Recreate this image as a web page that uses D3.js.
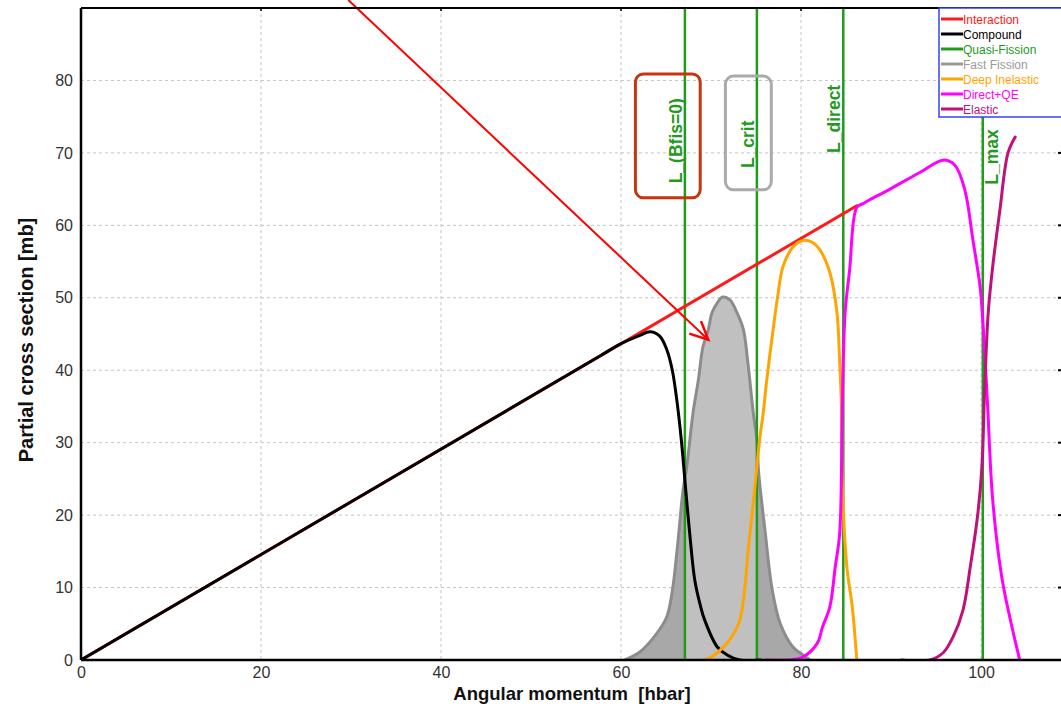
<!DOCTYPE html>
<html lang="en">
<head>
<meta charset="utf-8">
<script src="https://cdn.jsdelivr.net/npm/d3@7"></script>
<style>
    body { margin: 0; background: #fff; }
    text { font-family: "Liberation Sans", Arial, sans-serif; }
    .grid line { stroke: #c4c4c4; stroke-width: 1; stroke-dasharray: 3,3; }
    .axis path, .axis line { display: none; }
    .axis text { font-size: 16px; fill: #333; }
    .curve { fill: none; stroke-width: 3; stroke-linejoin: round; stroke-linecap: round; }
    .title { font-weight: bold; fill: #111; white-space: pre; }
    .llabel { font-size: 17.5px; font-weight: bold; fill: #229a1c; }
    .legend text { font-size: 12px; }
</style>
</head>
<body>
<div id="chart"></div>
<script>

    // tick labels
    var xTicks = [0, 20, 40, 60, 80, 100];
    var yTicks = [0, 10, 20, 30, 40, 50, 60, 70, 80];

    // partial cross sections (L in hbar, sigma in mb)
    var interactionL = [0, 86.2];
    var interactionS = [0, 62.7];

    var compoundL = [0, 57.7, 59.9, 62.1, 63.2, 64.3, 65.1, 65.7, 66.2, 66.7, 67.1, 67.7, 68.2, 68.8, 69.3, 70.7, 71.8, 73.2, 75.5];
    var compoundS = [0, 42.0, 43.6, 44.8, 45.3, 44.7, 42.8, 40.0, 35.9, 30.4, 24.8, 16.6, 11.0, 7.6, 5.5, 1.8, 0.7, 0, 0];

    var fastFissionL = [60.4, 62.1, 64.0, 65.1, 65.7, 66.3, 66.9, 67.3, 68.0, 68.6, 69.1, 69.7, 70.1, 70.7, 71.3, 72.1, 72.9, 73.6, 74.1, 74.7, 75.1, 75.3, 76.0, 76.8, 77.7, 79.1, 80.2, 81.0];
    var fastFissionS = [0, 1.1, 3.7, 6.0, 9.5, 16.0, 23.5, 26.6, 34.1, 38.7, 43.2, 45.6, 47.9, 49.3, 50.1, 49.7, 47.9, 45.6, 41.0, 34.1, 30.4, 25.8, 17.9, 9.7, 5.0, 1.8, 0.7, 0];

    var deepInelasticL = [66.9, 69.3, 70.7, 72.1, 73.2, 74.2, 75.1, 75.4, 75.8, 76.2, 76.9, 77.4, 78.0, 79.1, 80.2, 81.2, 82.1, 83.2, 84.0, 84.3, 84.5, 84.6, 85.1, 85.7, 86.2];
    var deepInelasticS = [0, 0, 1.0, 2.8, 5.5, 16.0, 26.6, 30.4, 34.1, 38.7, 45.6, 50.1, 54.3, 57.0, 57.9, 57.7, 56.6, 53.5, 47.9, 41.0, 35.0, 24.0, 12.8, 7.3, 0];

    var directL = [76.2, 78.8, 80.2, 81.8, 82.4, 83.2, 83.8, 84.3, 84.6, 84.9, 85.4, 86.2, 86.9, 87.6, 89.6, 93.2, 95.8, 97.1, 98.2, 99.1, 99.9, 100.2, 100.7, 101.3, 102.3, 103.2, 104.3];
    var directS = [0, 0, 0.4, 2.3, 4.6, 7.3, 12.8, 17.5, 36.0, 47.9, 53.8, 62.5, 63.0, 63.5, 64.8, 67.3, 69.0, 68.3, 64.9, 58.0, 51.5, 46.9, 35.9, 22.1, 11.5, 5.9, 0];

    var elasticL = [91.2, 94.3, 95.8, 96.9, 98.0, 98.8, 99.6, 100.1, 100.4, 100.8, 101.3, 102.1, 103.0, 103.8];
    var elasticS = [0, 0, 1.0, 3.2, 6.9, 12.8, 19.7, 26.6, 37.0, 47.9, 54.3, 62.1, 70.0, 72.2];

    // characteristic angular momenta
    var limitNames = ["L_(Bfis=0)", "L_crit", "L_direct", "L_max"];
    var limitL = [67.1, 75.1, 84.7, 100.2];
    var limitLabelY = [65.8, 67.9, 70.0, 65.6];

    var legendNames = ["Interaction", "Compound", "Quasi-Fission", "Fast Fission", "Deep Inelastic", "Direct+QE", "Elastic"];
    var legendColors = ["#ff1a1a", "#000000", "#229a1c", "#9a9a9a", "#ffa500", "#ff00ff", "#c0107a"];

    // annotation arrow (L, sigma)
    var arrowFrom = [29.7, 91.1];
    var arrowTo = [69.7, 44.2];

    var margin = {top: 8, right: 0, bottom: 47, left: 81};
    var width = 1061 - margin.left - margin.right;
    var height = 707 - margin.top - margin.bottom;

    var svg = d3.select("#chart").append("svg")
        .attr("width", 1061)
        .attr("height", 707)
        .append("g")
        .attr("transform", "translate(" + margin.left + "," + margin.top + ")");

    var x = d3.scaleLinear().domain([0, width / 9]).range([0, width]);
    var y = d3.scaleLinear().domain([0, 90]).range([height, 0]);

    svg.append("defs").append("clipPath").attr("id", "plotclip")
        .append("rect").attr("width", width).attr("height", height);
    svg.select("defs").append("clipPath").attr("id", "windowclip")
        .append("rect")
        .attr("x", x(limitL[0])).attr("width", x(limitL[1]) - x(limitL[0]))
        .attr("y", 0).attr("height", height);

    // grid
    var grid = svg.append("g").attr("class", "grid");
    grid.selectAll(".vx").data(xTicks.slice(1)).enter().append("line")
        .attr("x1", function (d) { return x(d); }).attr("x2", function (d) { return x(d); })
        .attr("y1", 0).attr("y2", height);
    grid.selectAll(".hy").data(yTicks.slice(1)).enter().append("line")
        .attr("x1", 0).attr("x2", width)
        .attr("y1", function (d) { return y(d); }).attr("y2", function (d) { return y(d); });

    // inner ticks on the right and top frame
    svg.append("g").selectAll("line").data(yTicks.slice(1)).enter().append("line")
        .attr("x1", width - 3).attr("x2", width)
        .attr("y1", function (d) { return y(d); }).attr("y2", function (d) { return y(d); })
        .attr("stroke", "#000").attr("stroke-width", 2);
    svg.append("g").selectAll("line").data(xTicks).enter().append("line")
        .attr("x1", function (d) { return x(d); }).attr("x2", function (d) { return x(d); })
        .attr("y1", 0).attr("y2", 3)
        .attr("stroke", "#000").attr("stroke-width", 1.5);

    var plot = svg.append("g").attr("clip-path", "url(#plotclip)");

    function pts(ls, ss) {
        return ls.map(function (l, i) { return [l, ss[i]]; });
    }

    var line = d3.line()
        .x(function (d) { return x(d[0]); })
        .y(function (d) { return y(d[1]); })
        .curve(d3.curveCatmullRom.alpha(0.5));

    var area = d3.area()
        .x(function (d) { return x(d[0]); })
        .y0(y(0))
        .y1(function (d) { return y(d[1]); })
        .curve(d3.curveCatmullRom.alpha(0.5));

    // fast fission: filled, lighter between L_(Bfis=0) and L_crit
    var ff = pts(fastFissionL, fastFissionS);
    plot.append("path").attr("d", area(ff)).attr("fill", "#a8a8a8");
    plot.append("path").attr("d", area(ff)).attr("fill", "#c0c0c0")
        .attr("clip-path", "url(#windowclip)");
    plot.append("path").attr("class", "curve").attr("d", line(ff)).attr("stroke", "#8c8c8c");

    // quasi-fission limits
    plot.selectAll(".limit").data(limitL).enter().append("line")
        .attr("x1", function (d) { return x(d); }).attr("x2", function (d) { return x(d); })
        .attr("y1", 0).attr("y2", height)
        .attr("stroke", "#229a1c").attr("stroke-width", 2.5);

    plot.append("path").attr("class", "curve").attr("d", line(pts(interactionL, interactionS))).attr("stroke", legendColors[0]);
    plot.append("path").attr("class", "curve").attr("d", line(pts(compoundL, compoundS))).attr("stroke", legendColors[1]);
    plot.append("path").attr("class", "curve").attr("d", line(pts(deepInelasticL, deepInelasticS))).attr("stroke", legendColors[4]);
    plot.append("path").attr("class", "curve").attr("d", line(pts(directL, directS))).attr("stroke", legendColors[5]);
    plot.append("path").attr("class", "curve").attr("d", line(pts(elasticL, elasticS))).attr("stroke", legendColors[6]);

    // limit labels
    svg.selectAll(".llabel").data(limitNames).enter().append("text")
        .attr("class", "llabel")
        .attr("transform", function (d, i) {
            var dx = (i === 3) ? 15 : -3;
            return "translate(" + (x(limitL[i]) + dx) + "," + y(limitLabelY[i]) + ") rotate(-90)";
        })
        .text(function (d) { return d; });

    // highlight boxes
    svg.append("rect")
        .attr("x", x(61.6)).attr("y", y(80.9))
        .attr("width", x(68.8) - x(61.6)).attr("height", y(63.8) - y(80.9))
        .attr("rx", 8).attr("fill", "none").attr("stroke", "#c8340c").attr("stroke-width", 3);
    svg.append("rect")
        .attr("x", x(71.6)).attr("y", y(80.6))
        .attr("width", x(76.7) - x(71.6)).attr("height", y(64.9) - y(80.6))
        .attr("rx", 8).attr("fill", "none").attr("stroke", "#aaaaaa").attr("stroke-width", 3);

    // arrow
    var ax1 = x(arrowFrom[0]), ay1 = y(arrowFrom[1]), ax2 = x(arrowTo[0]), ay2 = y(arrowTo[1]);
    var ang = Math.atan2(ay2 - ay1, ax2 - ax1);
    svg.append("line")
        .attr("x1", ax1).attr("y1", ay1).attr("x2", ax2).attr("y2", ay2)
        .attr("stroke", "#ff0000").attr("stroke-width", 2);
    var head = [ang + 2.7, ang - 2.7].map(function (a) {
        return [ax2 + 20 * Math.cos(a), ay2 + 20 * Math.sin(a)];
    });
    svg.append("path")
        .attr("d", "M" + head[0] + "L" + ax2 + "," + ay2 + "L" + head[1])
        .attr("fill", "none").attr("stroke", "#ff0000").attr("stroke-width", 2.5);

    // frame
    svg.append("line").attr("x1", 0).attr("x2", width).attr("y1", 0).attr("y2", 0)
        .attr("stroke", "#000").attr("stroke-width", 2);
    svg.append("line").attr("x1", 0).attr("x2", 0).attr("y1", 0).attr("y2", height)
        .attr("stroke", "#000").attr("stroke-width", 2.5);
    svg.append("line").attr("x1", 0).attr("x2", width).attr("y1", height).attr("y2", height)
        .attr("stroke", "#000").attr("stroke-width", 2.5);

    // axes
    svg.append("g").attr("class", "axis")
        .attr("transform", "translate(0," + height + ")")
        .call(d3.axisBottom(x).tickValues(xTicks).tickSize(0).tickPadding(7));
    svg.append("g").attr("class", "axis")
        .call(d3.axisLeft(y).tickValues(yTicks).tickSize(0).tickPadding(8));

    svg.append("text").attr("class", "title")
        .attr("x", 491).attr("y", 692)
        .attr("text-anchor", "middle")
        .style("font-size", "18.5px")
        .text("Angular momentum  [hbar]");
    svg.append("text").attr("class", "title")
        .attr("transform", "translate(-48," + 332 + ") rotate(-90)")
        .attr("text-anchor", "middle")
        .style("font-size", "20px")
        .text("Partial cross section [mb]");

    // legend
    var legend = svg.append("g").attr("class", "legend")
        .attr("transform", "translate(" + (width - 122) + ",0)");
    legend.append("rect").attr("x", 0).attr("y", 0).attr("width", 124).attr("height", 109)
        .attr("fill", "#fff").attr("stroke", "#3344ee").attr("stroke-width", 1.5);
    var items = legend.selectAll(".item").data(legendNames).enter().append("g")
        .attr("transform", function (d, i) { return "translate(0," + (11 + i * 15) + ")"; });
    items.append("line").attr("x1", 2).attr("x2", 24).attr("y1", 0).attr("y2", 0)
        .attr("stroke", function (d, i) { return legendColors[i]; }).attr("stroke-width", 3);
    items.append("text").attr("x", 24).attr("y", 4.5)
        .attr("fill", function (d, i) { return legendColors[i]; })
        .text(function (d) { return d; });

</script>
</body>
</html>
